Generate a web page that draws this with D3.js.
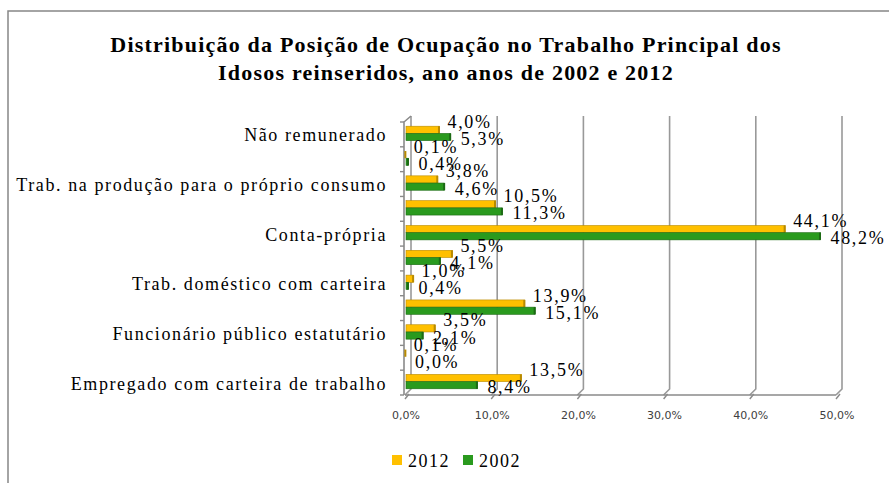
<!DOCTYPE html>
<html>
<head>
<meta charset="utf-8">
<script src="https://cdn.jsdelivr.net/npm/d3@7"></script>
<style>
  body { margin: 0; background: #fff; }
  svg { display: block; }
</style>
</head>
<body>
<svg id="chart"></svg>
<script>
const WIDTH = 889;
const HEIGHT = 483;

// categories, top to bottom (Excel only labels every other one)
const categories = [
	"Não remunerado",
	"Trab. na construção para o próprio uso",
	"Trab. na produção para o próprio consumo",
	"Empregador",
	"Conta-própria",
	"Trab. doméstico sem carteira",
	"Trab. doméstico com carteira",
	"Outros empregados sem carteira",
	"Funcionário público estatutário",
	"Militar",
	"Empregado com carteira de trabalho",
];
const values2012 = [4.0, 0.1, 3.8, 10.5, 44.1, 5.5, 1.0, 13.9, 3.5, 0.1, 13.5];
const values2002 = [5.3, 0.4, 4.6, 11.3, 48.2, 4.1, 0.4, 15.1, 2.1, 0.0, 8.4];
const seriesNames = ["2012", "2002"];
const xTicks = [0, 10, 20, 30, 40, 50];
const titleLines = [
	"Distribuição da Posição de Ocupação no Trabalho Principal dos",
	"Idosos reinseridos, ano anos de 2002 e 2012",
];

const COLORS = { "2012": "#FFC000", "2002": "#2A9A1E" };
const EDGES = { "2012": "#B88A00", "2002": "#1C6A14" };
const SERIF = "'Liberation Serif', 'Times New Roman', serif";

const ptBR = d3.formatLocale({ decimal: ",", thousands: ".", grouping: [3], currency: ["R$", ""] });
const pct = v => ptBR.format(".1f")(v) + "%";

const svg = d3.select("#chart").attr("width", WIDTH).attr("height", HEIGHT);

// chart border (runs off the right/bottom edge like the original)
svg.append("rect")
	.attr("x", 8).attr("y", 11)
	.attr("width", WIDTH + 20).attr("height", HEIGHT + 20)
	.attr("fill", "none").attr("stroke", "#878787").attr("stroke-width", 1.5);

// title
svg.append("g").selectAll("text")
	.data(titleLines)
	.join("text")
	.attr("x", 446)
	.attr("y", (d, i) => 52 + i * 28)
	.attr("text-anchor", "middle")
	.attr("font-family", SERIF)
	.attr("font-weight", "bold")
	.attr("font-size", 22)
	.attr("letter-spacing", 1.2)
	.attr("fill", "#000")
	.text(d => d);

const X0 = 405, X1 = 836;
const Y0 = 122, Y1 = 395;
const DEPTH = 6; // 3D offset of the back wall

const xScale = d3.scaleLinear([0, 50], [X0, X1]);
const yScale = d3.scaleBand(categories, [Y0, Y1]).paddingInner(0.42).paddingOuter(0.21);
const sub = d3.scaleBand(seriesNames, [0, yScale.bandwidth()]);

// back wall gridlines with slanted foot to the floor
const grid = svg.append("g");
for (const t of xTicks) {
	const xf = xScale(t);
	grid.append("path")
		.attr("d", d3.line()([
			[xf + DEPTH, Y0 - DEPTH],
			[xf + DEPTH, Y1 - DEPTH],
			[xf, Y1],
		]))
		.attr("fill", "none")
		.attr("stroke", "#999")
		.attr("stroke-width", 1.6);
}

// front floor line and left axis
svg.append("line")
	.attr("x1", X0).attr("x2", X1).attr("y1", Y1).attr("y2", Y1)
	.attr("stroke", "#8a8a8a").attr("stroke-width", 1.6);
svg.append("path")
	.attr("d", d3.line()([[X0 + DEPTH, Y0 - DEPTH], [X0 - 1, Y0], [X0 - 1, Y1]]))
	.attr("fill", "none").attr("stroke", "#8a8a8a").attr("stroke-width", 1.6);

// category ticks at band boundaries
const step = yScale.step();
const boundaries = d3.range(categories.length + 1).map(i => Y0 + i * step);
svg.append("g").selectAll("line")
	.data(boundaries)
	.join("line")
	.attr("x1", X0 - 5).attr("x2", X0 - 1)
	.attr("y1", d => d).attr("y2", d => d)
	.attr("stroke", "#8a8a8a").attr("stroke-width", 1.4);

// x ticks (slanted, 3D) and labels
const xAxis = svg.append("g");
xAxis.selectAll("line")
	.data(xTicks)
	.join("line")
	.attr("x1", d => xScale(d)).attr("y1", Y1 + 4)
	.attr("x2", d => xScale(d) + 4).attr("y2", Y1 - 1)
	.attr("stroke", "#8a8a8a").attr("stroke-width", 1.4);
xAxis.selectAll("text")
	.data(xTicks)
	.join("text")
	.attr("x", d => xScale(d) + 1)
	.attr("y", 419)
	.attr("text-anchor", "middle")
	.attr("font-family", "'DejaVu Sans', Verdana, sans-serif")
	.attr("font-size", 11)
	.attr("fill", "#404040")
	.text(d => pct(d));

// category labels (every other one, as in the original)
svg.append("g").selectAll("text")
	.data(categories.filter((d, i) => i % 2 === 0))
	.join("text")
	.attr("x", 387)
	.attr("y", d => yScale(d) + yScale.bandwidth() / 2 + 7)
	.attr("text-anchor", "end")
	.attr("font-family", SERIF)
	.attr("font-size", 18)
	.attr("letter-spacing", 1.6)
	.attr("fill", "#000")
	.text(d => d);

// bars
const rows = categories.map((c, i) => ({ c, "2012": values2012[i], "2002": values2002[i] }));
const barData = rows.flatMap(r => seriesNames.map(s => ({ c: r.c, s, v: r[s] })));

const bars = svg.append("g").selectAll("g")
	.data(barData)
	.join("g")
	.attr("transform", d => `translate(0,${yScale(d.c) + sub(d.s) - 1})`);

bars.append("rect")
	.attr("x", X0 + 1)
	.attr("y", 0)
	.attr("width", d => Math.max(0, xScale(d.v) - X0 - 1))
	.attr("height", sub.bandwidth())
	.attr("fill", d => COLORS[d.s])
	.attr("stroke", d => EDGES[d.s])
	.attr("stroke-width", 0.6);
bars.filter(d => d.v > 0).append("rect")
	.attr("x", d => xScale(d.v) - 1.5)
	.attr("y", 0)
	.attr("width", 2)
	.attr("height", sub.bandwidth())
	.attr("fill", d => EDGES[d.s]);

// data labels
bars.append("text")
	.attr("x", d => xScale(d.v) + (d.s === "2012" ? 8 : 10))
	.attr("y", d => sub.bandwidth() / 2 + (d.s === "2012" ? -8 : 2) + 6)
	.attr("font-family", SERIF)
	.attr("font-size", 18)
	.attr("letter-spacing", 1.7)
	.attr("fill", "#000")
	.text(d => pct(d.v));

// legend
const legend = svg.append("g").selectAll("g")
	.data(seriesNames)
	.join("g")
	.attr("transform", (d, i) => `translate(${392 + i * 71},0)`);
legend.append("rect")
	.attr("x", 0).attr("y", 455)
	.attr("width", 10).attr("height", 10)
	.attr("fill", d => COLORS[d]);
legend.append("text")
	.attr("x", 16).attr("y", 467)
	.attr("font-family", SERIF)
	.attr("font-size", 18)
	.attr("letter-spacing", 1.5)
	.attr("fill", "#000")
	.text(d => d);
</script>
</body>
</html>
